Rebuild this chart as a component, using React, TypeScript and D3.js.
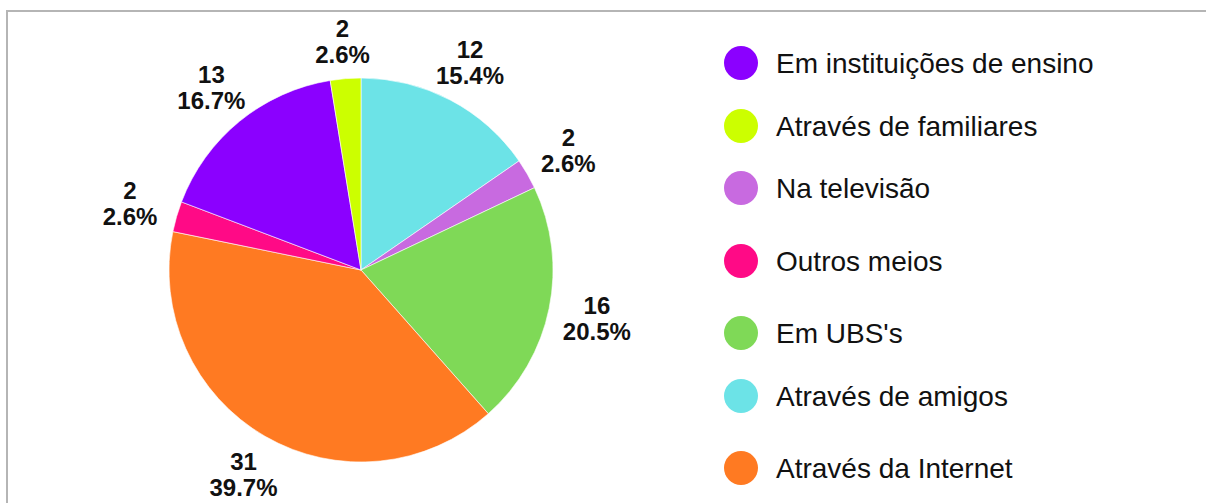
import React from "react";
import * as d3 from "d3";

const categories = [
  "Através de amigos",
  "Na televisão",
  "Em UBS's",
  "Através da Internet",
  "Outros meios",
  "Em instituições de ensino",
  "Através de familiares",
];
const values = [12, 2, 16, 31, 2, 13, 2];
const colors = ["#6ce3e7", "#c86ae0", "#7fd957", "#ff7a22", "#ff0a86", "#8b00ff", "#ccff00"];

const legendOrder = [
  "Em instituições de ensino",
  "Através de familiares",
  "Na televisão",
  "Outros meios",
  "Em UBS's",
  "Através de amigos",
  "Através da Internet",
];
const legendY = [63, 126, 188, 261, 333, 396, 468];

const W = 1206;
const H = 503;
const CX = 361;
const CY = 270;
const R = 192;

export default function App() {
  const total = d3.sum(values);
  const pie = d3.pie<number>().sort(null).value((d) => d);
  const arcs = pie(values);
  const arcGen = d3.arc<d3.PieArcDatum<number>>().innerRadius(0).outerRadius(R);
  const colorOf = d3.scaleOrdinal<string, string>().domain(categories).range(colors);

  return (
    <svg
      width={W}
      height={H}
      style={{ position: "absolute", left: 0, top: 0, background: "#fff" }}
      fontFamily="'Liberation Sans', Arial, sans-serif"
    >
      <rect x={7} y={11} width={1400} height={800} fill="#fff" stroke="#b5b5b5" strokeWidth={2} />
      <g transform={`translate(${CX},${CY})`}>
        {arcs.map((a, i) => (
          <path key={i} d={arcGen(a) || ""} fill={colorOf(categories[i])} stroke="#fff" strokeWidth={0.6} />
        ))}
        {arcs.map((a, i) => {
          const mid = (a.startAngle + a.endAngle) / 2;
          const lr = 229 + 12 * Math.abs(Math.sin(mid));
          const lx = lr * Math.sin(mid);
          const ly = -lr * Math.cos(mid);
          const pct = ((a.value / total) * 100).toFixed(1) + "%";
          return (
            <text key={"l" + i} x={lx} y={ly} textAnchor="middle" fontWeight="bold" fontSize={24} fill="#111">
              <tspan x={lx} dy={-4}>{a.value}</tspan>
              <tspan x={lx} dy={26}>{pct}</tspan>
            </text>
          );
        })}
      </g>
      <g>
        {legendOrder.map((name, i) => (
          <g key={name} transform={`translate(741,${legendY[i]})`}>
            <circle r={17} fill={colorOf(name)} />
            <text x={35} y={10} fontSize={28} fill="#111">
              {name}
            </text>
          </g>
        ))}
      </g>
    </svg>
  );
}
